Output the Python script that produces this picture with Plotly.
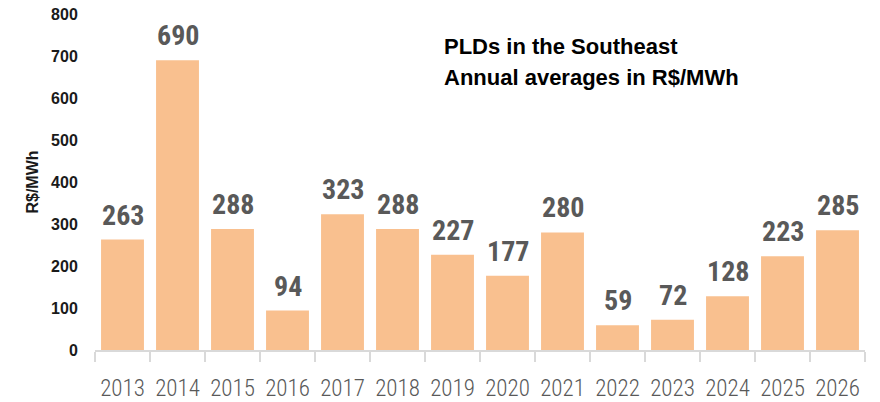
import plotly.graph_objects as go

years = ["2013", "2014", "2015", "2016", "2017", "2018", "2019", "2020",
         "2021", "2022", "2023", "2024", "2025", "2026"]
values = [263, 690, 288, 94, 323, 288, 227, 177, 280, 59, 72, 128, 223, 285]
y_ticks = [0, 100, 200, 300, 400, 500, 600, 700, 800]
title_lines = ["PLDs in the Southeast", "Annual averages in R$/MWh"]

COND = "Roboto Condensed, DejaVu Sans Condensed, Liberation Sans Narrow, Roboto"

fig = go.Figure()
fig.add_trace(go.Bar(
    x=years, y=values,
    marker=dict(color="#F9C08F", line=dict(width=0)),
    hoverinfo="x+y",
))

for i, v in enumerate(values):
    fig.add_annotation(
        x=i, y=v, xref="x", yref="y",
        text=str(v), showarrow=False,
        yanchor="bottom", yshift=6,
        font=dict(family=COND, size=28, color="#595959", weight="bold"),
    )

fig.update_layout(
    width=880, height=402,
    margin=dict(l=87, r=23, t=6, b=60, autoexpand=False),
    paper_bgcolor="white", plot_bgcolor="white",
    bargap=0.22,
    showlegend=False,
    xaxis=dict(
        type="category",
        categoryorder="array", categoryarray=years,
        range=[-0.5, len(years) - 0.5],
        showline=True, linecolor="#D9D9D9", linewidth=1.5,
        ticks="outside", tickson="boundaries", ticklen=10, tickcolor="#D9D9D9",
        tickwidth=1.5, tickangle=0, automargin=False,
        ticklabelstandoff=17,
        tickfont=dict(family=COND, size=23, color="#595959", weight=300),
        showgrid=False,
    ),
    yaxis=dict(
        range=[0, 800],
        tickvals=y_ticks,
        ticktext=[str(t) for t in y_ticks],
        ticklabeloverflow="allow",
        showgrid=False, zeroline=False, showline=False, automargin=False,
        ticks="outside", ticklen=13, tickcolor="rgba(0,0,0,0)",
        tickfont=dict(family="Liberation Sans, Arial", size=16, color="#1a1a1a",
                      weight="bold"),
        title=dict(text="R$/MWh", font=dict(family="Liberation Sans, Arial", size=16,
                                           color="#1a1a1a", weight="bold"),
                   standoff=8),
    ),
)

for i, line in enumerate(title_lines):
    fig.add_annotation(
        xref="paper", yref="paper",
        x=(442 - 95) / 770, y=1 - (53 + i * 31 - 14) / 336,
        xanchor="left", yanchor="bottom", yshift=-8,
        text=line, showarrow=False,
        font=dict(family="Liberation Sans, Arial", size=22, color="black", weight="bold"),
    )

fig.write_html("out.html")
